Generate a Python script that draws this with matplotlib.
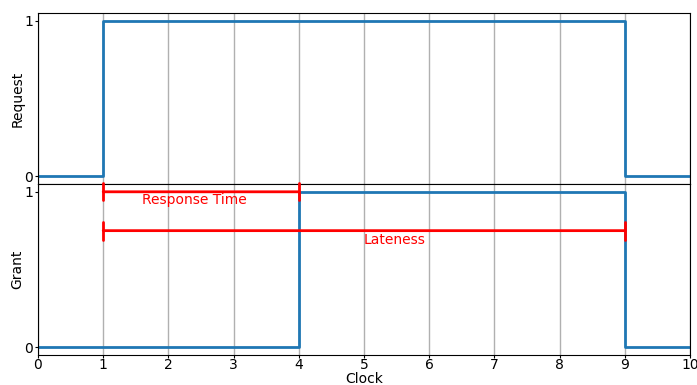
import matplotlib
matplotlib.use("Agg")
import matplotlib.pyplot as plt

clock = [0, 1, 2, 3, 4, 5, 6, 7, 8, 9, 10]
request = [0, 1, 1, 1, 1, 1, 1, 1, 1, 0, 0]
grant = [0, 0, 0, 0, 1, 1, 1, 1, 1, 0, 0]

response_span = (1, 4)
lateness_span = (1, 9)

fig, (ax1, ax2) = plt.subplots(2, 1, sharex=True, figsize=(6.97, 3.85), dpi=100)
fig.subplots_adjust(left=0.0545, right=0.99, top=0.966, bottom=0.078, hspace=0)

ax1.step(clock, request, where="post", color="#1f77b4", lw=2)
ax2.step(clock, grant, where="post", color="#1f77b4", lw=2)

for ax, name in ((ax1, "Request"), (ax2, "Grant")):
    ax.set_ylabel(name, labelpad=0)
    ax.set_yticks([0, 1])
    ax.set_ylim(-0.05, 1.05)
    ax.grid(axis="x", color="#b0b0b0", lw=1)
    ax.set_axisbelow(True)
    ax.tick_params(length=2, pad=1.5)

ax2.set_xlim(0, 10)
ax2.set_xticks(clock)
ax2.tick_params(axis="x", pad=0.5)
ax2.set_xlabel("Clock", labelpad=0)
ax1.tick_params(axis="x", length=0)

def span_arrow(ax, span, y, scale):
    ax.annotate("", xy=(span[0], y), xytext=(span[1], y),
                arrowprops=dict(arrowstyle="|-|", color="red", lw=2,
                                shrinkA=0, shrinkB=0, mutation_scale=scale))

span_arrow(ax2, response_span, 1.0, 6)
span_arrow(ax2, lateness_span, 0.75, 6.5)
ax2.text(1.6, 0.95, "Response Time", color="red", ha="left", va="center")
ax2.text(5.0, 0.69, "Lateness", color="red", ha="left", va="center")

fig.savefig("out.png", dpi=100)
